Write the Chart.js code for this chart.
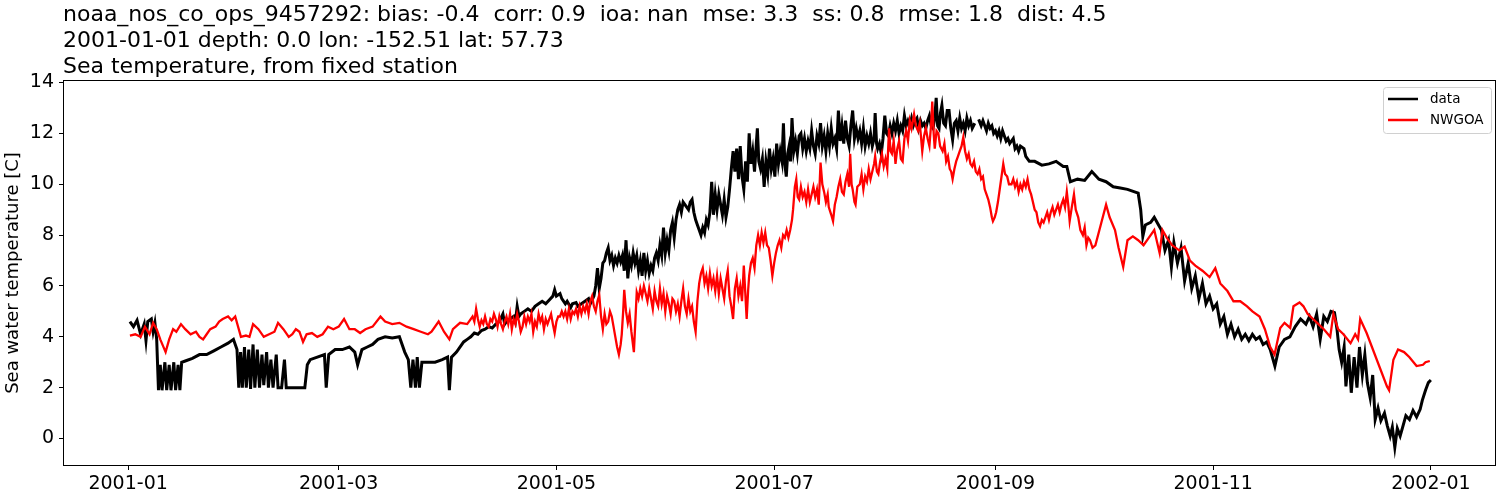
<!DOCTYPE html>
<html>
<head>
<meta charset="utf-8">
<script src="https://cdn.jsdelivr.net/npm/chart.js@4.4.0/dist/chart.umd.min.js"></script>
<style>
  html, body { margin: 0; padding: 0; background: #fff; }
  #box { width: 1500px; height: 500px; }
</style>
</head>
<body>
<div id="box"><canvas id="graph"></canvas></div>
<script>
// jours depuis le 2001-01-01
const xTickDays = [0, 59, 120, 181, 243, 304, 365];
const xTickLabels = ['2001-01', '2001-03', '2001-05', '2001-07', '2001-09', '2001-11', '2002-01'];
const yTicks = [0, 2, 4, 6, 8, 10, 12, 14];

const titleLines = [
    'noaa_nos_co_ops_9457292: bias: -0.4  corr: 0.9  ioa: nan  mse: 3.3  ss: 0.8  rmse: 1.8  dist: 4.5',
    '2001-01-01 depth: 0.0 lon: -152.51 lat: 57.73',
    'Sea temperature, from fixed station'
];
const seriesNames = ['data', 'NWGOA'];

// station (noir) - une ligne de jours <-> une ligne de valeurs
const dataDays = [
    0.5, 1.5, 2.5, 3.5, 4.5, 5.0, 5.5, 6.5, 7.0, 7.5, 8.0, 8.5, 9.0, 9.5, 10.3, 10.8, 11.5, 12.0, 12.8, 13.3, 14.0, 14.5, 15.0,
    16, 18, 20, 22, 24, 26, 28, 29.5, 30.5,
    31.0, 31.5, 32.0, 32.6, 33.1, 33.8, 34.3, 35.0, 35.5, 36.2, 36.8, 37.5, 38.0, 38.8, 39.3, 40.0, 40.6, 41.5, 42.0, 43.0, 43.8, 44.3, 46.0, 48.0, 49.5,
    50.2, 51, 53, 55, 55.5, 56.2, 58, 60, 62, 63.5, 64.3, 65.5, 67, 68.5, 70, 72, 74, 76, 77.5, 78.5,
    79.2, 79.8, 80.5, 81.0, 81.6, 82.3, 84, 86, 88, 89.5, 90.0, 90.6, 92, 94, 95,
    96, 97, 98, 99, 100, 101, 102, 103, 104, 105, 105.5, 106, 107, 108, 108.5, 109, 109.5, 110, 111, 112,
    113, 114, 115, 116, 117, 118, 119, 119.5, 120, 121, 121.5, 122.5, 123, 124, 124.5, 125.5, 126, 127, 128, 129, 129.5, 130.5,
    131, 131.5, 132, 132.5, 133, 133.5, 134, 134.5, 135, 135.5, 136, 136.5, 137, 137.5, 138, 138.5, 139, 139.5, 140, 140.5,
    141, 141.5, 142, 142.5, 143, 143.5, 144, 144.5, 145, 145.5, 146, 146.5, 147, 147.5, 148, 148.5, 149, 149.5, 150, 150.5,
    151, 151.5, 152, 152.5, 153, 153.5, 154, 154.5, 155, 155.5, 156, 156.5, 157, 157.5, 158, 158.5, 159, 159.5, 160, 160.5,
    161, 161.5, 162, 162.5, 163, 163.5, 164, 164.5, 165, 165.5, 166, 166.5, 167, 167.5, 168, 168.5, 169, 169.5, 170, 170.5,
    171, 171.5, 172, 172.5, 173, 173.5, 174, 174.5, 175, 175.5, 176, 176.3, 176.7, 177.2, 177.7, 178.2, 178.7, 179.2, 179.7, 180.2,
    180.7, 181.2, 181.7, 182.2, 182.7, 183.2, 183.6, 184, 184.4, 184.8, 185.2, 185.6, 186, 186.5, 187, 187.5, 188, 188.5, 189, 189.5,
    190, 190.5, 191, 191.5, 192, 192.5, 193, 193.5, 194, 194.5, 195, 195.5, 196, 196.5, 197, 197.5, 198, 198.5, 199, 199.5,
    200, 200.5, 201, 201.5, 202, 202.5, 203, 203.5, 204, 204.5, 205, 205.5, 206, 206.5, 207, 207.5, 208, 208.5, 209, 209.3,
    209.7, 210, 210.5, 211, 211.5, 212, 212.5, 213, 213.5, 214, 214.5, 215, 215.5, 216, 216.5, 217, 217.5, 218, 218.5, 219,
    219.5, 220, 220.5, 221, 221.5, 222, 222.5, 223, 223.5, 224, 224.5, 225, 225.5, 226, 226.4, 226.8, 227.2, 227.6, 228, 228.5,
    229, 229.5, 230, 230.5, 231, 231.5, 232, 232.5, 233, 233.5, 234, 234.5, 235, 235.5, 236, 236.5, 237.2, 237.8, 238.3, 239,
    239.5, 240, 240.5, 241, 241.5, 242, 242.5, 243, 243.5, 244, 244.5, 245, 245.5, 246, 246.5, 247, 248, 248.5, 249, 249.5,
    250, 251, 251.5, 252, 252.5, 253, 254, 256, 258, 260, 262, 263, 264, 266, 268, 270, 272, 274, 276, 278,
    280, 282, 283, 283.7, 284.3, 285, 286.5, 287.5, 288.5, 289.5, 290.5, 291.5, 292.3, 293, 294, 295, 296, 297, 298, 299,
    300, 301, 302, 303, 304, 305, 306, 307, 308, 309, 310, 311, 312, 313, 314, 315, 316, 317, 318, 319,
    320, 321.3, 322.5, 324, 325.5, 327, 328.5, 330, 331, 332, 333, 334, 335, 336, 337, 338, 338.7, 339.3, 340, 340.7,
    341.2, 342, 342.7, 343.5, 344.3, 345, 345.8, 346.5, 347.2, 348, 348.7, 349.4, 350.2, 351, 352, 352.8, 353.6, 354.2, 354.9, 355.6,
    356.4, 357.2, 358, 359, 360, 361, 362, 362.6, 363.5, 364.3, 365];
const dataTemp = [
    4.6, 4.4, 4.65, 4.1, 4.5, 3.85, 4.6, 4.7, 4.2, 4.55, 3.9, 1.9, 2.9, 1.9, 3.0, 1.9, 2.9, 1.9, 3.0, 1.9, 2.9, 1.9, 3.0,
    3.05, 3.15, 3.3, 3.3, 3.45, 3.6, 3.75, 3.9, 3.5,
    2.0, 3.4, 2.0, 3.6, 2.0, 3.5, 1.95, 3.7, 2.0, 3.5, 2.0, 3.3, 2.1, 3.4, 2.0, 3.1, 2.0, 3.3, 2.0, 2.0, 3.1, 2.0, 2.0, 2.0, 2.0,
    2.9, 3.1, 3.2, 3.3, 2.0, 3.3, 3.5, 3.5, 3.6, 3.4, 2.9, 3.5, 3.6, 3.7, 3.9, 4.0, 3.95, 4.0, 3.4, 3.1,
    2.0, 3.1, 2.0, 3.2, 2.0, 3.0, 3.0, 3.0, 3.1, 3.2, 1.9, 3.2, 3.4, 3.8, 3.9,
    4.0, 4.15, 4.1, 4.25, 4.3, 4.4, 4.35, 4.5, 4.6, 4.9, 4.5, 4.6, 4.7, 4.8, 4.6, 5.2, 4.8, 4.9, 5.0, 5.1,
    5.0, 5.2, 5.3, 5.4, 5.3, 5.45, 5.6, 5.85, 5.6, 5.7, 5.5, 5.3, 5.4, 5.15, 5.3, 5.35, 5.2, 5.3, 5.4, 5.5, 5.3, 5.6,
    6.0, 6.7, 5.9, 6.3, 6.9, 7.0, 7.3, 7.5, 7.0, 7.2, 6.8, 7.1, 6.9, 7.2, 6.95, 7.2, 6.6, 7.8, 6.3, 7.1,
    6.8, 7.3, 6.9, 7.2, 6.6, 7.0, 6.4, 7.3, 6.6, 7.0, 6.5, 6.8, 6.6, 7.1, 7.3, 7.0, 7.6, 7.2, 8.3, 7.3,
    7.8, 7.4, 8.2, 8.5, 7.9, 8.6, 9.0, 9.2, 8.9, 9.3, 9.2, 9.1, 9.0, 9.3, 9.4, 8.9, 8.6, 8.4, 8.2, 8.0,
    8.3, 8.1, 8.6, 8.4, 8.9, 10.1, 8.8, 9.6, 9.0, 9.6, 9.2, 8.8, 9.4, 8.7, 9.1, 9.8, 10.6, 11.3, 10.5, 11.4,
    10.2, 11.5, 10.3, 9.8, 10.9, 10.1, 12.0, 10.8, 11.3, 10.5, 11.6, 12.2, 10.9, 10.6, 11.0, 9.9, 10.9, 10.4, 11.4, 10.6,
    11.0, 10.3, 11.6, 10.8, 11.3, 10.9, 12.4, 10.8, 10.3, 11.2, 11.5, 10.9, 12.6, 11.3, 11.7, 11.2, 11.9, 12.0, 11.4, 11.8,
    11.3, 11.7, 11.4, 12.1, 11.5, 11.2, 11.9, 11.6, 12.4, 11.5, 11.9, 11.3, 12.0, 11.5, 12.2, 11.6, 11.8, 11.4, 12.9, 11.7,
    12.3, 11.6, 12.5, 11.8, 11.5, 12.3, 12.9, 11.8, 12.2, 11.8, 12.1, 11.6, 12.2, 11.5, 11.9, 11.6, 12.0, 11.5, 11.8, 12.8,
    11.6, 11.4, 11.6, 11.2, 11.8, 12.7, 12.0, 11.9, 12.3, 12.0, 12.4, 12.1, 12.5, 12.0, 12.3, 12.1, 12.7, 12.3, 12.5, 12.3,
    12.6, 12.3, 12.5, 12.6, 12.2, 12.5, 12.3, 12.4, 12.2, 12.5, 12.7, 12.3, 12.2, 12.6, 13.4, 12.3, 12.2, 12.8, 13.1, 12.4,
    12.3, 12.9, 12.9, 12.2, 11.75, 12.4, 12.5, 12.1, 12.6, 12.2, 12.4, 12.1, 12.6, 12.3, 12.5, 12.2, 12.4, null, 12.55, 12.3,
    12.5, 12.3, 12.1, 12.4, 12.2, 12.3, 12.0, 12.1, 11.9, 12.1, 11.8, 12.1, 11.9, 11.7, 11.8, 11.6, 11.8, 11.4, 11.5, 11.3,
    11.5, 11.4, 11.1, 11.0, 10.9, 10.9, 10.9, 10.75, 10.8, 10.9, 10.7, 10.7, 10.1, 10.2, 10.15, 10.5, 10.2, 10.1, 9.9, 9.85,
    9.8, 9.7, 9.65, 9.0, 7.95, 8.4, 8.5, 8.7, 8.45, 8.2, 7.4, 7.8, 6.75, 7.7, 6.9, 7.5, 6.2, 6.9, 5.9, 6.4,
    5.5, 6.1, 5.3, 5.6, 5.1, 5.3, 4.5, 4.8, 4.1, 4.5, 4.0, 4.3, 3.9, 4.1, 3.85, 4.1, 3.9, 4.0, 3.7, 3.8,
    3.5, 2.85, 3.6, 3.9, 4.0, 4.4, 4.7, 4.5, 4.8, 4.4, 4.9, 3.9, 4.8, 4.6, 5.0, 4.95, 4.3, 3.5, 3.0, 3.6,
    2.05, 3.3, 1.8, 3.2, 2.0, 3.6, 2.5, 3.3, 2.2, 1.6, 2.5, 0.75, 1.2, 0.7, 1.0, 0.5, 0.1, 0.45, -0.35, 0.4,
    0.1, 0.5, 0.9, 0.75, 1.1, 0.85, 1.15, 1.5, 1.9, 2.2, 2.3];

// modele NWGOA (rouge)
const modelDays = [
    0.5, 2, 3.5, 4.7, 6, 7, 8, 9, 10.5, 11.5, 12.6, 13.5, 14.8, 16, 17.5, 19, 20, 21, 22, 23,
    24.5, 25.5, 26.5, 28, 29, 30, 31.6, 33, 34, 35, 36.5, 38, 39.5, 41, 42, 43.5, 45, 46, 47, 48,
    49, 50, 51.5, 53, 54.5, 56, 57.5, 59, 60.5, 62, 63.5, 65, 66.5, 68.5, 70.7, 72, 74, 76, 78, 80,
    82, 84, 85, 87, 88.5, 90, 91, 93, 95, 96.5, 97, 97.5, 98, 98.5, 99, 99.5, 100, 100.5, 101, 101.5,
    102, 102.5, 103, 103.5, 104, 104.5, 105, 105.5, 106, 106.5, 107, 107.5, 108, 108.5, 109, 109.5, 110, 110.5, 111, 111.5,
    112, 112.5, 113, 113.5, 114, 114.5, 115, 115.5, 116, 116.5, 117, 117.5, 118, 118.5, 119, 119.5, 120, 120.5, 121, 121.5,
    122, 122.5, 123, 123.5, 124, 124.5, 125, 125.5, 126, 126.5, 127, 127.5, 128, 128.5, 129, 129.5, 130, 130.5, 131, 131.5,
    132, 132.5, 133, 133.5, 134, 134.5, 135, 135.5, 136, 136.5, 137, 137.5, 138, 138.3, 138.7, 139, 139.5, 140, 140.5, 141,
    141.7, 142.5, 143, 143.5, 144, 144.5, 145, 145.5, 146, 146.5, 147, 147.5, 148, 148.5, 149, 149.5, 150, 150.5, 151, 151.5,
    152, 152.5, 153, 153.5, 154, 154.5, 155, 155.5, 156, 156.5, 157, 157.5, 158, 158.5, 159, 159.5, 160, 160.5, 161, 161.5,
    162, 162.5, 163, 163.5, 164, 164.5, 165, 165.5, 166, 166.5, 167, 167.5, 168, 168.5, 169, 169.5, 170, 170.5, 171, 171.5,
    172, 172.5, 173, 173.3, 173.7, 174, 174.5, 175, 175.5, 176, 176.5, 177, 177.5, 178, 178.5, 179, 179.5, 180, 180.5, 181,
    181.5, 182, 182.5, 183, 183.5, 184, 184.5, 185, 185.5, 186, 186.3, 186.8, 187.2, 187.6, 188, 188.5, 189, 189.5, 190, 190.5,
    191, 191.5, 192, 192.5, 193, 193.5, 194, 194.5, 195, 195.5, 196, 196.3, 197, 197.5, 198, 198.5, 199, 199.5, 200, 200.5,
    201, 201.5, 202, 202.3, 202.7, 203, 203.5, 203.8, 204.3, 205, 205.5, 206, 206.5, 207, 207.5, 208, 208.5, 209, 209.3, 209.8,
    210.2, 210.7, 211.2, 211.7, 212.2, 212.7, 213.2, 213.6, 214, 214.5, 215, 215.5, 216, 216.5, 217, 217.5, 218, 218.5, 219, 219.5,
    220.2, 220.7, 221.3, 221.8, 222.5, 223, 223.5, 224, 224.5, 225, 225.3, 225.7, 226, 226.5, 227, 227.5, 228.2, 228.7, 229.2, 229.7,
    230.2, 230.6, 231, 231.5, 232, 232.5, 233, 233.5, 234, 234.5, 235, 235.5, 236, 236.5, 237, 237.5, 238, 238.5, 239, 239.5,
    240, 240.5, 241, 241.5, 242, 242.3, 242.8, 243.2, 243.7, 244.2, 244.7, 245.2, 245.7, 246.3, 246.8, 247.5, 248, 248.5, 249, 249.5,
    250, 250.5, 251, 251.5, 252, 252.5, 253, 253.5, 254, 254.5, 255, 255.5, 256, 256.5, 257, 257.5, 258, 258.5, 259, 259.5,
    260, 260.5, 261, 261.5, 262, 262.5, 263, 263.4, 263.8, 264.4, 265, 265.5, 266.2, 266.8, 267.5, 268, 268.5, 269, 269.5, 270.2,
    271, 272.5, 274, 275, 276.5, 277.5, 278.8, 280, 281.5, 283, 284.5, 286, 287.5, 289, 289.8, 291, 292.5, 294.5, 296, 297.5,
    299, 301, 303, 304.6, 306, 308, 309.7, 311.6, 313.5, 315, 317, 318.5, 320, 321.2, 322.8, 324, 325.6, 326.5, 328.2, 329.3,
    330.5, 332, 333.5, 335, 336.8, 337.7, 339, 340.5, 342.5, 343.8, 344.6, 345.2, 347, 352.7, 353.3, 354.5, 355.8, 357.5, 359, 361,
    362.8, 363.5, 364.7];
const modelTemp = [
    4.05, 4.1, 4.0, 4.4, 4.1, 4.55, 4.3, 3.9, 3.4, 3.9, 4.3, 4.2, 4.5, 4.3, 4.1, 4.2, 4.0, 3.9, 4.1, 4.3,
    4.4, 4.6, 4.7, 4.8, 4.65, 4.8, 4.0, 4.05, 4.0, 4.5, 4.3, 4.0, 4.1, 4.2, 4.55, 4.3, 4.0, 4.1, 4.3, 4.2,
    3.8, 4.1, 4.15, 4.0, 4.1, 4.4, 4.3, 4.4, 4.7, 4.3, 4.3, 4.15, 4.3, 4.4, 4.8, 4.6, 4.5, 4.55, 4.4, 4.3,
    4.2, 4.1, 4.2, 4.6, 4.2, 3.9, 4.3, 4.55, 4.5, 4.8, 4.6, 5.1, 4.7, 4.4, 4.65, 4.5, 4.8, 4.5, 4.4, 4.7,
    4.6, 4.9, 4.7, 4.4, 4.8, 4.5, 4.3, 4.6, 4.8, 4.5, 4.9, 4.3, 4.7, 4.5, 4.9, 4.6, 4.2, 4.4, 4.8, 4.5,
    4.8, 4.6, 4.9, 4.2, 4.6, 4.4, 4.9, 4.6, 4.8, 4.3, 4.7, 4.5, 4.7, 4.9, 4.5, 4.15, 4.6, 4.8, 4.8, 5.0,
    4.8, 5.0, 4.7, 5.1, 4.7, 5.0, 4.9, 5.1, 4.8, 5.2, 4.9, 5.2, 5.0, 5.3, 4.9, 5.4, 5.6, 5.2, 5.0, 5.4,
    5.65, 4.8, 4.3, 4.9, 4.5, 4.6, 5.0, 4.8, 4.4, 4.0, 3.6, 3.3, 3.7, 4.1, 5.0, 5.85, 5.0, 4.55, 4.9, 4.2,
    3.4, 5.75, 5.5, 5.9, 5.6, 6.0, 5.7, 5.4, 5.9, 5.5, 5.1, 5.8, 5.4, 5.2, 5.9, 5.3, 5.7, 5.0, 5.6, 5.3,
    4.9, 5.5, 5.4, 5.0, 5.3, 4.8, 5.4, 5.9, 5.2, 4.9, 5.5, 5.0, 5.2, 4.6, 4.2, 5.4, 6.1, 6.5, 6.7, 6.1,
    6.4, 5.9, 6.5, 6.0, 6.3, 5.8, 6.4, 5.7, 6.3, 5.9, 5.5, 6.2, 6.6, 5.6, 5.2, 4.7, 5.9, 6.3, 5.6, 6.0,
    5.4, 6.8, 5.5, 4.7, 5.8, 6.4, 6.9, 7.1, 6.7, 7.6, 8.0, 7.6, 8.1, 7.7, 8.1, 7.6, 7.5, 7.0, 6.4, 6.9,
    7.3, 7.6, 7.8, 7.5, 8.0, 7.9, 8.2, 7.9, 8.2, 8.6, 9.0, 9.9, 10.2, 9.5, 9.4, 9.9, 9.5, 9.7, 9.3, 9.8,
    9.3, 9.6, 9.9, 9.5, 9.8, 9.2, 10.85, 10.0, 9.7, 9.3, 9.6, 9.1, 8.8, 8.55, 9.2, 9.5, 9.9, 10.2, 9.7, 9.6,
    10.1, 10.4, 9.9, 11.2, 10.0, 9.8, 9.3, 9.2, 9.9, 10.0, 10.4, 9.8, 10.3, 10.1, 10.6, 10.2, 10.5, 10.8, 11.1, 10.5,
    10.4, 10.9, 11.2, 10.7, 11.0, 10.6, 12.2, 11.3, 11.2, 11.7, 10.8, 11.4, 11.7, 11.0, 10.9, 11.8, 12.1, 11.7, 12.5, 12.2,
    12.75, 12.3, 12.1, 12.4, 11.3, 11.9, 12.2, 11.8, 11.5, 12.4, 13.25, 12.0, 11.4, 12.1, 12.0, 11.5, 11.3, 11.6, 10.9, 11.1,
    10.6, 10.5, 10.2, 10.6, 10.9, 11.1, 11.3, 11.5, 11.85, 11.3, 11.0, 11.2, 10.8, 10.7, 10.9, 10.5, 10.4, 10.6, 10.2, 10.3,
    9.8, 9.6, 9.4, 9.1, 8.7, 8.55, 8.7, 8.9, 9.3, 9.8, 10.3, 10.8, 10.4, 10.3, 10.0, 10.0, 10.2, 9.9, 10.1, 9.7,
    10.0, 9.8, 10.1, 9.9, 10.2, 9.8, 9.6, 9.3, 9.0, 8.9, 8.5, 8.35, 8.6, 8.5, 8.7, 8.9, 8.6, 8.9, 9.1, 8.8,
    9.0, 9.2, 8.9, 9.2, 9.4, 9.1, 9.7, 9.2, 8.55, 9.1, 9.6, 9.0, 8.7, 8.2, 8.0, 8.3, 7.6, 7.9, 7.8, 7.5,
    7.6, 8.4, 9.2, 8.7, 8.2, 7.5, 6.75, 7.8, 7.95, 7.8, 7.6, 7.9, 8.2, 7.3, 8.2, 7.9, 7.6, 7.4, 7.55, 7.0,
    6.8, 6.6, 6.35, 6.7, 6.1, 5.8, 5.4, 5.4, 5.2, 5.0, 4.8, 4.3, 3.6, 3.3, 4.35, 4.55, 4.35, 5.2, 5.35, 5.2,
    4.9, 4.7, 4.5, 4.3, 4.0, 4.9, 4.3, 4.1, 3.75, 4.1, 3.9, 4.7, 4.15, 2.05, 1.9, 3.1, 3.5, 3.4, 3.2, 2.85,
    2.9, 3.0, 3.05];

const police = 'DejaVu Sans';

function enPoints(jours, valeurs) {
    return jours.map((j, i) => ({ x: j, y: valeurs[i] }));
}

// cadre + titre + legende facon matplotlib
const habillage = {
    id: 'habillage',
    afterDraw(chart) {
        const ctx = chart.ctx;
        const a = chart.chartArea;
        ctx.save();
        ctx.strokeStyle = '#000';
        ctx.lineWidth = 1;
        ctx.strokeRect(a.left + 0.5, a.top + 0.5, a.right - a.left - 1, a.bottom - a.top - 1);

        ctx.fillStyle = '#000';
        ctx.font = '22px "' + police + '"';
        ctx.textAlign = 'left';
        ctx.textBaseline = 'alphabetic';
        titleLines.forEach((t, i) => ctx.fillText(t, a.left, 21 + i * 26));

        // legende
        const lx = a.right - 113, ly = a.top + 7, lw = 108, lh = 46;
        ctx.beginPath();
        ctx.roundRect(lx + 0.5, ly + 0.5, lw, lh, 3);
        ctx.fillStyle = 'rgba(255,255,255,0.8)';
        ctx.fill();
        ctx.strokeStyle = '#d0d0d0';
        ctx.stroke();
        const couleurs = ['#000000', '#ff0000'];
        ctx.font = '13.5px "' + police + '"';
        ctx.textBaseline = 'middle';
        seriesNames.forEach((nom, i) => {
            const y = ly + 12 + i * 21;
            ctx.beginPath();
            ctx.moveTo(lx + 5, y);
            ctx.lineTo(lx + 35, y);
            ctx.strokeStyle = couleurs[i];
            ctx.lineWidth = 2.5;
            ctx.stroke();
            ctx.fillStyle = '#000';
            ctx.fillText(nom, lx + 47, y);
        });
        ctx.restore();
    }
};

const ctx = document.getElementById('graph').getContext('2d');
new Chart(ctx, {
    type: 'line',
    data: {
        datasets: [{
            label: seriesNames[0],
            data: enPoints(dataDays, dataTemp),
            borderColor: '#000000',
            borderWidth: 3,
            pointRadius: 0,
            tension: 0,
            spanGaps: false,
            order: 2
        }, {
            label: seriesNames[1],
            data: enPoints(modelDays, modelTemp),
            borderColor: '#ff0000',
            borderWidth: 2.3,
            pointRadius: 0,
            tension: 0,
            order: 1
        }]
    },
    options: {
        responsive: true,
        maintainAspectRatio: false,
        animation: false,
        layout: { padding: { top: 80, right: 4, left: 0, bottom: 0 } },
        plugins: {
            legend: { display: false },
            title: { display: false },
            tooltip: { enabled: false }
        },
        scales: {
            x: {
                type: 'linear',
                min: -18.25,
                max: 383.25,
                afterFit: s => { s.height = 34; },
                afterBuildTicks: s => { s.ticks = xTickDays.map(v => ({ value: v })); },
                grid: { drawOnChartArea: false, drawTicks: true, tickLength: 4, color: '#000' },
                border: { display: false },
                ticks: {
                    color: '#000',
                    font: { family: police, size: 19 },
                    padding: 3,
                    maxRotation: 0,
                    callback: (v, i) => xTickLabels[i]
                }
            },
            y: {
                min: -1.08,
                max: 14.1,
                afterFit: s => { s.width = 63; },
                afterBuildTicks: s => { s.ticks = yTicks.map(v => ({ value: v })); },
                grid: { drawOnChartArea: false, drawTicks: true, tickLength: 4, color: '#000' },
                border: { display: false },
                title: {
                    display: true,
                    text: 'Sea water temperature [C]',
                    color: '#000',
                    font: { family: police, size: 18 },
                    padding: { top: 3, bottom: 0 }
                },
                ticks: {
                    color: '#000',
                    font: { family: police, size: 19 },
                    padding: 5
                }
            }
        }
    },
    plugins: [habillage]
});
</script>
</body>
</html>
